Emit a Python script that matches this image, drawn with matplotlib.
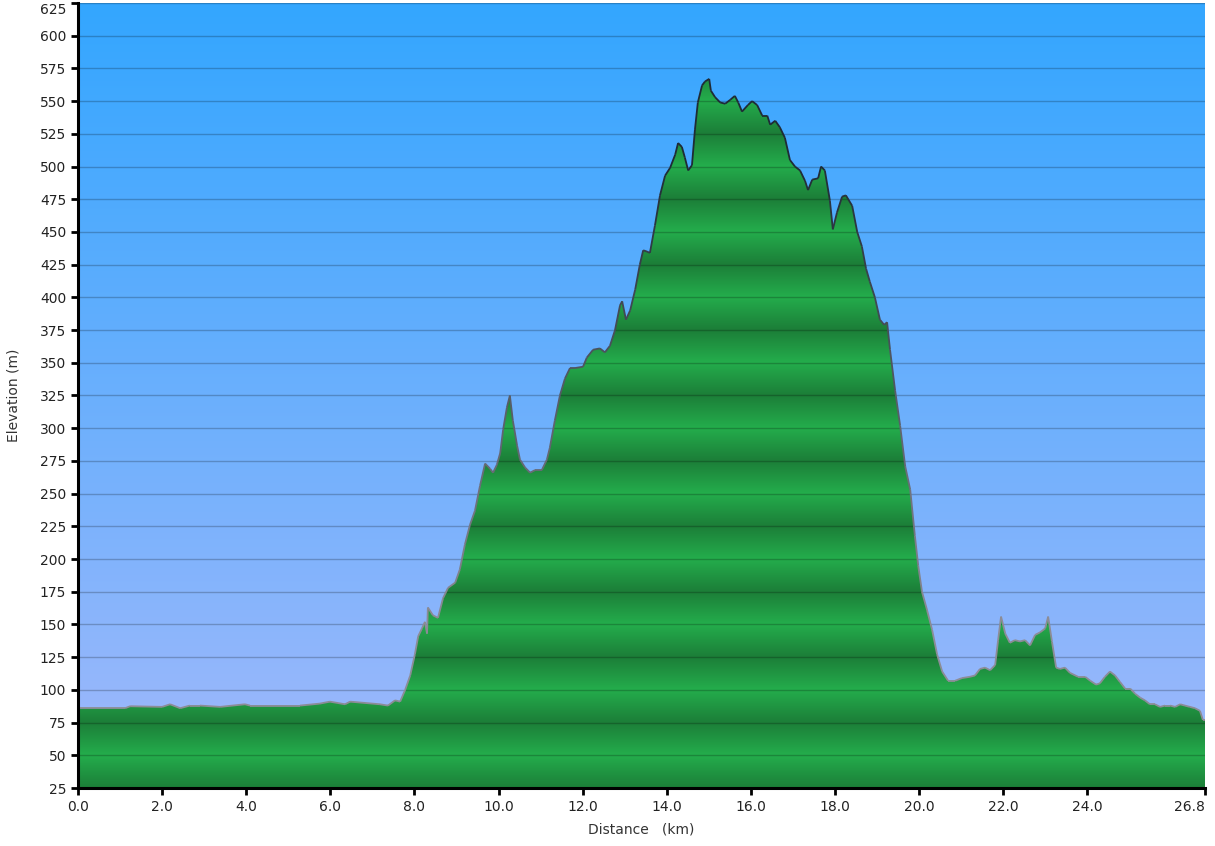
import numpy as np
import matplotlib
matplotlib.use("Agg")
import matplotlib.pyplot as plt
from matplotlib.patches import Polygon
from matplotlib.collections import LineCollection
from matplotlib.colors import to_rgb

# profile (km, m)
dist_km = [0.00, 0.52, 1.12, 1.24, 2.00, 2.19, 2.43, 2.66, 2.90, 3.38, 3.97, 4.09,
           4.80, 5.28, 5.75, 5.99, 6.35, 6.47, 7.18, 7.37, 7.54, 7.66, 7.78, 7.90,
           8.01, 8.09, 8.18, 8.25, 8.30, 8.32, 8.44, 8.56, 8.68, 8.80, 8.97, 9.08,
           9.20, 9.32, 9.44, 9.56, 9.68, 9.80, 9.87, 9.96, 10.04, 10.11, 10.20, 10.27,
           10.34, 10.44, 10.51, 10.63, 10.75, 10.87, 11.03, 11.15, 11.22, 11.34, 11.46,
           11.58, 11.70, 11.82, 12.01, 12.10, 12.25, 12.41, 12.53, 12.65, 12.77, 12.89,
           12.94, 13.03, 13.13, 13.25, 13.36, 13.44, 13.53, 13.60, 13.72, 13.84, 13.96,
           14.08, 14.20, 14.27, 14.36, 14.43, 14.51, 14.60, 14.67, 14.74, 14.84, 14.91,
           15.01, 15.05, 15.15, 15.27, 15.39, 15.51, 15.62, 15.70, 15.79, 15.93, 16.03,
           16.15, 16.27, 16.39, 16.46, 16.58, 16.69, 16.81, 16.93, 17.05, 17.17, 17.29,
           17.36, 17.46, 17.60, 17.67, 17.76, 17.88, 17.95, 18.05, 18.17, 18.26, 18.41,
           18.53, 18.64, 18.74, 18.83, 18.95, 19.07, 19.17, 19.24, 19.31, 19.43, 19.55,
           19.67, 19.79, 19.90, 19.98, 20.07, 20.19, 20.31, 20.43, 20.55, 20.69, 20.86,
           21.02, 21.21, 21.33, 21.45, 21.57, 21.69, 21.81, 21.88, 21.95, 22.05, 22.16,
           22.28, 22.40, 22.52, 22.64, 22.76, 22.88, 23.00, 23.07, 23.16, 23.26, 23.35,
           23.47, 23.59, 23.78, 23.95, 24.07, 24.21, 24.30, 24.42, 24.54, 24.66, 24.78,
           24.90, 25.02, 25.14, 25.26, 25.37, 25.49, 25.61, 25.73, 25.85, 25.97, 26.09,
           26.21, 26.32, 26.44, 26.56, 26.68, 26.75, 26.80]
elev_m = [86, 86, 86, 87.5, 87, 89, 86, 88, 88, 87, 89, 88,
          88, 88, 89.5, 91, 89, 91, 89, 88, 92, 91, 100, 111,
          127, 141, 147, 152, 143, 163, 157, 155, 170, 178, 182, 192,
          211, 226, 237, 256, 273, 269, 266, 272, 281, 299, 316, 325,
          306, 287, 276, 270, 266, 268, 268, 276, 285, 306, 325,
          338, 346, 346, 347, 354, 360, 361, 358, 363, 375, 394,
          397, 383, 390, 406, 425, 436, 435, 434, 455, 478, 493,
          499, 509, 518, 515, 507, 497, 501, 528, 549, 562, 565,
          567, 558, 553, 549, 548, 551, 554, 549, 542, 547, 550,
          547, 539, 539, 532, 535, 530, 522, 505, 500, 497, 489,
          482, 490, 491, 500, 497, 474, 452, 465, 477, 478, 470,
          450, 439, 422, 412, 400, 383, 379, 381, 360, 329, 302,
          271, 253, 218, 195, 175, 161, 146, 127, 114, 107, 107,
          109, 110, 111, 116, 117, 115, 119, 138, 156, 143, 136,
          138, 137, 138, 134, 142, 144, 147, 156, 137, 117, 116,
          117, 113, 110, 110, 107, 104, 105, 110, 114, 111, 106,
          101, 101, 97, 94, 92, 89, 89, 87, 88, 88, 87,
          89, 88, 87, 86, 84, 77, 77]

x_ticks = [0, 2, 4, 6, 8, 10, 12, 14, 16, 18, 20, 22, 24, 26.8]
x_ticklabels = ["0.0", "2.0", "4.0", "6.0", "8.0", "10.0", "12.0", "14.0", "16.0",
                "18.0", "20.0", "22.0", "24.0", "26.8"]
y_ticks = list(range(25, 626, 25))

X_MAX, Y_MIN, Y_MAX = 26.8, 25, 625

fig = plt.figure(figsize=(12.15, 8.46), dpi=100)
ax = fig.add_axes([78 / 1215, 1 - 788 / 846, 1127 / 1215, 785 / 846])
ax.set_xlim(0, X_MAX)
ax.set_ylim(Y_MIN, Y_MAX)

# sky gradient
top, bot = np.array(to_rgb("#33a6ff")), np.array(to_rgb("#a2b9fb"))
t = np.linspace(0, 1, 400)[:, None]
sky = (top * (1 - t) + bot * t)[:, None, :]
ax.imshow(sky, extent=[0, X_MAX, Y_MIN, Y_MAX], aspect="auto", zorder=0,
          interpolation="bilinear")

# banded green fill (dark at 75,125,... bright at 50,100,...)
e = np.linspace(Y_MAX, Y_MIN, 1600)
ph = ((e - 25) % 50) / 50.0
b = 1 - np.abs(2 * ph - 1)
dark, bright = np.array(to_rgb("#1c7e38")), np.array(to_rgb("#24ad4c"))
green = (dark[None, :] * (1 - b[:, None]) + bright[None, :] * b[:, None])[:, None, :]
im = ax.imshow(green, extent=[0, X_MAX, Y_MIN, Y_MAX], aspect="auto", zorder=1,
               interpolation="bilinear")
verts = [(dist_km[0], Y_MIN)] + list(zip(dist_km, elev_m)) + [(dist_km[-1], Y_MIN)]
poly = Polygon(verts, closed=True, facecolor="none", edgecolor="none")
ax.add_patch(poly)
im.set_clip_path(poly)

# outline, grey low down, dark near the top
pts = np.column_stack([dist_km, elev_m])
segs = np.stack([pts[:-1], pts[1:]], axis=1)
mid = (pts[:-1, 1] + pts[1:, 1]) / 2
k = np.clip((mid - 150) / 350, 0, 1)[:, None]
lo, hi = np.array(to_rgb("#8c8c96")), np.array(to_rgb("#1f2b36"))
ax.add_collection(LineCollection(segs, colors=lo * (1 - k) + hi * k, linewidths=1.3,
                                 zorder=4))

# grid
ax.set_axisbelow(False)
ax.yaxis.grid(True, color="black", alpha=0.22, lw=1.0)
ax.xaxis.grid(False)

ax.set_xticks(x_ticks)
ax.set_xticklabels(x_ticklabels)
ax.set_yticks(y_ticks)
ax.tick_params(axis="both", direction="out", length=5, width=2, colors="black",
               labelsize=10, labelcolor="#222222")
# keep the end labels inside the canvas
ax.get_xticklabels()[-1].set_horizontalalignment("right")
ax.get_yticklabels()[-1].set_verticalalignment("top")
for s in ("top", "right"):
    ax.spines[s].set_visible(False)
for s in ("left", "bottom"):
    ax.spines[s].set_linewidth(2.2)
    ax.spines[s].set_zorder(5)

ax.set_ylabel("Elevation (m)", fontsize=10, color="#333333", labelpad=14)
ax.set_xlabel("Distance   (km)", fontsize=10, color="#333333", labelpad=6)

fig.savefig("out.png", dpi=100)
